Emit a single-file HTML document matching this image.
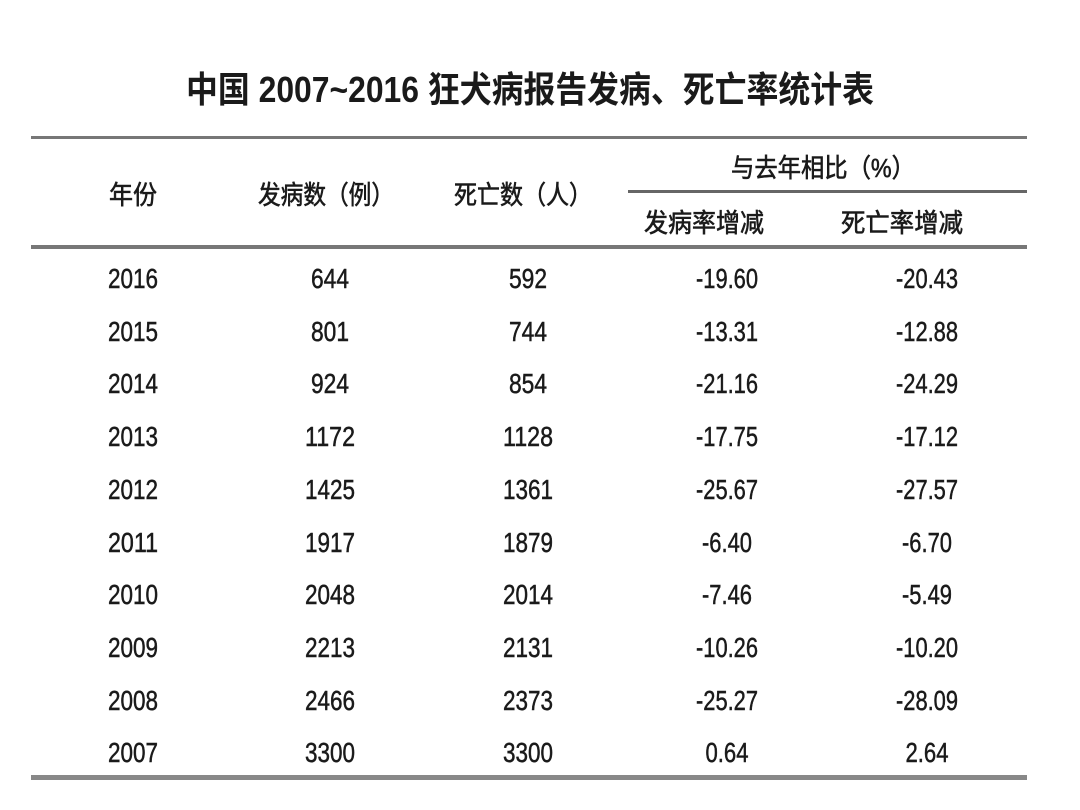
<!DOCTYPE html>
<html><head><meta charset="utf-8"><style>
html,body{margin:0;padding:0;background:#fff;width:1080px;height:810px;overflow:hidden}
svg{display:block}
text{font-family:"Liberation Sans","Noto Sans CJK SC",sans-serif;fill:#1a1a1a}
.h{font-size:26px;stroke:#1a1a1a;stroke-width:0.6}
.n{font-size:28px;stroke:#1a1a1a;stroke-width:0.5}
</style></head><body>
<svg width="1080" height="810" viewBox="0 0 1080 810">
<text x="530" y="102" text-anchor="middle" font-size="36" font-weight="bold" textLength="688" lengthAdjust="spacingAndGlyphs">中国 2007~2016 狂犬病报告发病、死亡率统计表</text>
<rect x="31" y="136" width="996" height="3" fill="#777"/>
<rect x="628" y="190" width="399" height="3" fill="#666"/>
<rect x="31" y="245" width="996" height="4" fill="#777"/>
<rect x="31" y="775" width="996" height="5" fill="#888"/>
<g text-anchor="middle">
<text x="133" y="204" class="h" textLength="48" lengthAdjust="spacingAndGlyphs">年份</text>
<text x="326" y="204" class="h" textLength="136" lengthAdjust="spacingAndGlyphs">发病数（例）</text>
<text x="523" y="204" class="h" textLength="138" lengthAdjust="spacingAndGlyphs">死亡数（人）</text>
<text x="823" y="177" class="h" textLength="184" lengthAdjust="spacingAndGlyphs">与去年相比（%）</text>
<text x="704" y="232" class="h" textLength="120" lengthAdjust="spacingAndGlyphs">发病率增减</text>
<text x="902" y="232" class="h" textLength="122" lengthAdjust="spacingAndGlyphs">死亡率增减</text>
</g>
<g text-anchor="middle" class="n">
<text x="133" y="288" textLength="50" lengthAdjust="spacingAndGlyphs">2016</text><text x="330" y="288" textLength="38" lengthAdjust="spacingAndGlyphs">644</text><text x="528" y="288" textLength="38" lengthAdjust="spacingAndGlyphs">592</text><text x="727" y="288" textLength="62" lengthAdjust="spacingAndGlyphs">-19.60</text><text x="927" y="288" textLength="62" lengthAdjust="spacingAndGlyphs">-20.43</text>
<text x="133" y="341" textLength="50" lengthAdjust="spacingAndGlyphs">2015</text><text x="330" y="341" textLength="38" lengthAdjust="spacingAndGlyphs">801</text><text x="528" y="341" textLength="38" lengthAdjust="spacingAndGlyphs">744</text><text x="727" y="341" textLength="62" lengthAdjust="spacingAndGlyphs">-13.31</text><text x="927" y="341" textLength="62" lengthAdjust="spacingAndGlyphs">-12.88</text>
<text x="133" y="393" textLength="50" lengthAdjust="spacingAndGlyphs">2014</text><text x="330" y="393" textLength="38" lengthAdjust="spacingAndGlyphs">924</text><text x="528" y="393" textLength="38" lengthAdjust="spacingAndGlyphs">854</text><text x="727" y="393" textLength="62" lengthAdjust="spacingAndGlyphs">-21.16</text><text x="927" y="393" textLength="62" lengthAdjust="spacingAndGlyphs">-24.29</text>
<text x="133" y="446" textLength="50" lengthAdjust="spacingAndGlyphs">2013</text><text x="330" y="446" textLength="50" lengthAdjust="spacingAndGlyphs">1172</text><text x="528" y="446" textLength="50" lengthAdjust="spacingAndGlyphs">1128</text><text x="727" y="446" textLength="62" lengthAdjust="spacingAndGlyphs">-17.75</text><text x="927" y="446" textLength="62" lengthAdjust="spacingAndGlyphs">-17.12</text>
<text x="133" y="499" textLength="50" lengthAdjust="spacingAndGlyphs">2012</text><text x="330" y="499" textLength="50" lengthAdjust="spacingAndGlyphs">1425</text><text x="528" y="499" textLength="50" lengthAdjust="spacingAndGlyphs">1361</text><text x="727" y="499" textLength="62" lengthAdjust="spacingAndGlyphs">-25.67</text><text x="927" y="499" textLength="62" lengthAdjust="spacingAndGlyphs">-27.57</text>
<text x="133" y="552" textLength="50" lengthAdjust="spacingAndGlyphs">2011</text><text x="330" y="552" textLength="50" lengthAdjust="spacingAndGlyphs">1917</text><text x="528" y="552" textLength="50" lengthAdjust="spacingAndGlyphs">1879</text><text x="727" y="552" textLength="50" lengthAdjust="spacingAndGlyphs">-6.40</text><text x="927" y="552" textLength="50" lengthAdjust="spacingAndGlyphs">-6.70</text>
<text x="133" y="604" textLength="50" lengthAdjust="spacingAndGlyphs">2010</text><text x="330" y="604" textLength="50" lengthAdjust="spacingAndGlyphs">2048</text><text x="528" y="604" textLength="50" lengthAdjust="spacingAndGlyphs">2014</text><text x="727" y="604" textLength="50" lengthAdjust="spacingAndGlyphs">-7.46</text><text x="927" y="604" textLength="50" lengthAdjust="spacingAndGlyphs">-5.49</text>
<text x="133" y="657" textLength="50" lengthAdjust="spacingAndGlyphs">2009</text><text x="330" y="657" textLength="50" lengthAdjust="spacingAndGlyphs">2213</text><text x="528" y="657" textLength="50" lengthAdjust="spacingAndGlyphs">2131</text><text x="727" y="657" textLength="62" lengthAdjust="spacingAndGlyphs">-10.26</text><text x="927" y="657" textLength="62" lengthAdjust="spacingAndGlyphs">-10.20</text>
<text x="133" y="710" textLength="50" lengthAdjust="spacingAndGlyphs">2008</text><text x="330" y="710" textLength="50" lengthAdjust="spacingAndGlyphs">2466</text><text x="528" y="710" textLength="50" lengthAdjust="spacingAndGlyphs">2373</text><text x="727" y="710" textLength="62" lengthAdjust="spacingAndGlyphs">-25.27</text><text x="927" y="710" textLength="62" lengthAdjust="spacingAndGlyphs">-28.09</text>
<text x="133" y="762" textLength="50" lengthAdjust="spacingAndGlyphs">2007</text><text x="330" y="762" textLength="50" lengthAdjust="spacingAndGlyphs">3300</text><text x="528" y="762" textLength="50" lengthAdjust="spacingAndGlyphs">3300</text><text x="727" y="762" textLength="43" lengthAdjust="spacingAndGlyphs">0.64</text><text x="927" y="762" textLength="43" lengthAdjust="spacingAndGlyphs">2.64</text>
</g>
</svg>
</body></html>
